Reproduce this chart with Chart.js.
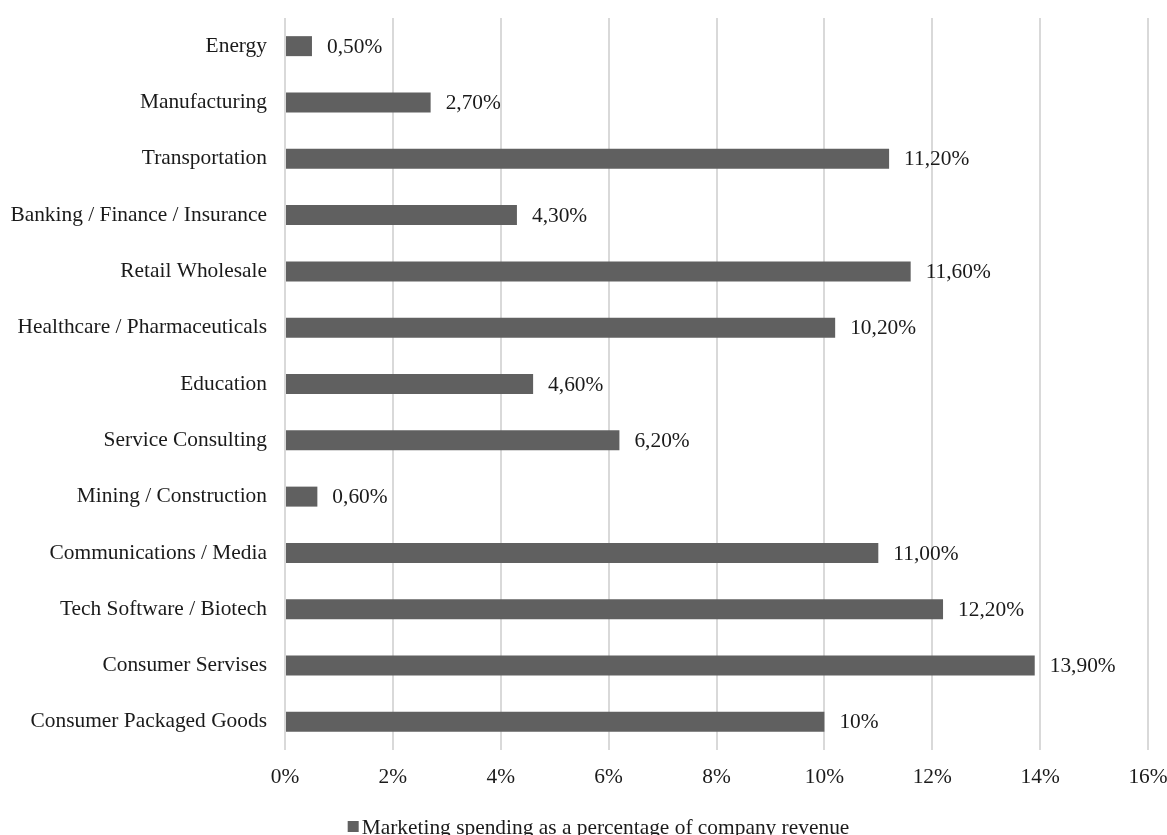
<!DOCTYPE html>
<html>
<head>
<meta charset="utf-8">
<script src="https://cdn.jsdelivr.net/npm/chart.js@4.4.1/dist/chart.umd.min.js"></script>
<style>
  html, body { margin: 0; padding: 0; background: #fff; overflow: hidden; }
  #wrap { width: 1167px; height: 835px; position: relative; }
</style>
</head>
<body>
<div id="wrap"><canvas id="chartBar"></canvas></div>
<script>
const categories = [
  'Energy', 'Manufacturing', 'Transportation', 'Banking / Finance / Insurance',
  'Retail Wholesale', 'Healthcare / Pharmaceuticals', 'Education', 'Service Consulting',
  'Mining / Construction', 'Communications / Media', 'Tech Software / Biotech',
  'Consumer Servises', 'Consumer Packaged Goods'
];
const values = [0.5, 2.7, 11.2, 4.3, 11.6, 10.2, 4.6, 6.2, 0.6, 11.0, 12.2, 13.9, 10];
const valueLabels = ['0,50%', '2,70%', '11,20%', '4,30%', '11,60%', '10,20%', '4,60%', '6,20%',
  '0,60%', '11,00%', '12,20%', '13,90%', '10%'];
const seriesName = 'Marketing spending as a percentage of company revenue';

const fontFamily = '"Liberation Serif", "Times New Roman", serif';
const fontSize = 21.4;
const textColor = '#1a1a1a';
const barColor = '#606060';

// writes the value text just after the end of each bar
const barLabels = {
  id: 'barLabels',
  afterDatasetsDraw(chart) {
    const ctx = chart.ctx;
    const meta = chart.getDatasetMeta(0);
    ctx.save();
    ctx.font = `${fontSize}px ${fontFamily}`;
    ctx.fillStyle = textColor;
    ctx.textAlign = 'left';
    ctx.textBaseline = 'middle';
    meta.data.forEach((bar, i) => {
      ctx.fillText(valueLabels[i], bar.x + 15, bar.y + 1);
    });
    ctx.restore();
  }
};

// legend at the bottom, a small square then the series name
const bottomLegend = {
  id: 'bottomLegend',
  afterDraw(chart) {
    const ctx = chart.ctx;
    const ds = chart.data.datasets[0];
    ctx.save();
    ctx.font = `${fontSize}px ${fontFamily}`;
    const textW = ctx.measureText(ds.label).width;
    const total = 11 + 3 + textW;
    const left = chart.width / 2 + 15 - total / 2;
    ctx.fillStyle = ds.backgroundColor;
    ctx.fillRect(left, 821, 11, 11);
    ctx.fillStyle = textColor;
    ctx.textAlign = 'left';
    ctx.textBaseline = 'alphabetic';
    ctx.fillText(ds.label, left + 14, 834);
    ctx.restore();
  }
};

const configBarChart = {
  type: 'bar',
  data: {
    labels: categories,
    datasets: [{
      label: seriesName,
      data: values,
      backgroundColor: barColor,
      borderColor: barColor,
      borderWidth: 0,
      barPercentage: 0.71,
      categoryPercentage: 0.5
    }]
  },
  options: {
    indexAxis: 'y',
    responsive: true,
    maintainAspectRatio: false,
    animation: false,
    layout: { padding: { top: 18, right: 19, left: 0, bottom: 23 } },
    scales: {
      x: {
        min: 0,
        max: 16,
        ticks: {
          stepSize: 2,
          color: textColor,
          font: { family: fontFamily, size: fontSize },
          padding: 15,
          callback: (v) => v + '%'
        },
        grid: { color: '#d9d9d9', lineWidth: 2, drawTicks: false },
        border: { display: false },
        afterFit: (s) => { s.height = 62; s.paddingLeft = 0; s.paddingRight = 0; }
      },
      y: {
        ticks: {
          color: textColor,
          font: { family: fontFamily, size: fontSize },
          padding: 18
        },
        grid: { display: false, drawTicks: false },
        border: { display: false },
        afterFit: (s) => { s.width = 285; s.paddingTop = 0; s.paddingBottom = 0; }
      }
    },
    plugins: {
      legend: { display: false },
      tooltip: { enabled: false }
    }
  },
  plugins: [barLabels, bottomLegend]
};

new Chart(document.getElementById('chartBar'), configBarChart);
</script>
</body>
</html>
